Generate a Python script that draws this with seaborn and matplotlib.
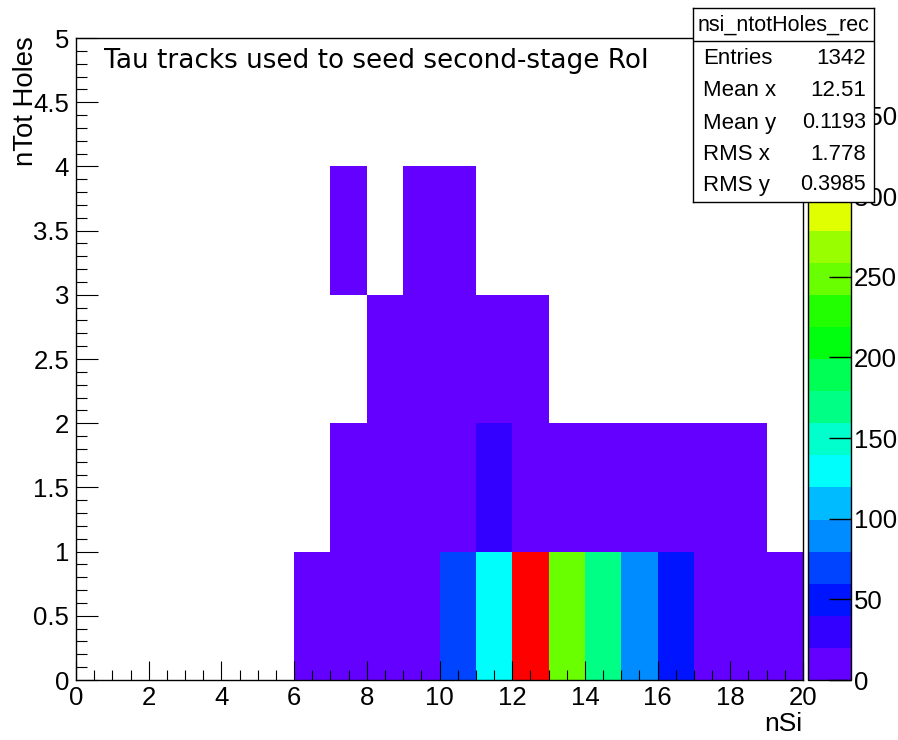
import colorsys
import numpy as np
import pandas as pd
import matplotlib
matplotlib.use("Agg")
import matplotlib.pyplot as plt
from matplotlib.colors import ListedColormap, BoundaryNorm
import seaborn as sns

# ---------------- data ----------------
nsi_edges = list(range(0, 21))          # nSi bin edges (20 bins)
holes_edges = list(range(0, 6))         # nTot Holes bin edges (5 bins)
# counts per nSi bin (0..19) for each nTot-Holes bin
holes0 = [0, 0, 0, 0, 0, 0, 6, 7, 8, 9, 72, 130, 398, 250, 170, 90, 50, 8, 6, 5]
holes1 = [0, 0, 0, 0, 0, 0, 0, 6, 9, 10, 12, 28, 12, 10, 8, 7, 6, 5, 3, 0]
holes2 = [0, 0, 0, 0, 0, 0, 0, 0, 2, 3, 4, 3, 2, 0, 0, 0, 0, 0, 0, 0]
holes3 = [0, 0, 0, 0, 0, 0, 0, 1, 0, 1, 1, 0, 0, 0, 0, 0, 0, 0, 0, 0]
holes4 = [0] * 20
x_tick_values = [0, 2, 4, 6, 8, 10, 12, 14, 16, 18, 20]
y_tick_values = [0, 0.5, 1, 1.5, 2, 2.5, 3, 3.5, 4, 4.5, 5]
z_tick_values = [0, 50, 100, 150, 200, 250, 300, 350]
stat_names = ["Entries", "Mean x", "Mean y", "RMS x", "RMS y"]
stat_values = ["1342", "12.51", "0.1193", "1.778", "0.3985"]
hist_name = "nsi_ntotHoles_rec"
title_text = "Tau tracks used to seed second-stage RoI"

# ---------------- styling ----------------
plt.rcParams["font.family"] = ["Liberation Sans", "DejaVu Sans"]

counts = pd.DataFrame([holes0, holes1, holes2, holes3, holes4],
                      index=holes_edges[:-1], columns=nsi_edges[:-1])

# ROOT "pretty" palette (violet -> red), 20 contour levels
ncont = 20
pal = []
for k in range(ncont):
    idx = int((k + 0.99) * 50 / ncont)
    hue = max(280 - (idx + 1) * 5.6, 0)
    pal.append(colorsys.hls_to_rgb(hue / 360.0, 0.5, 1.0))
cmap = ListedColormap(pal)
zmax = float(counts.values.max())
levels = np.linspace(0, zmax, ncont + 1)
norm = BoundaryNorm(levels, ncont)

W, H = 898, 740
fig = plt.figure(figsize=(W / 100, H / 100), dpi=100)
ax = fig.add_axes([76 / W, 1 - 680 / H, (803 - 76) / W, (680 - 38) / H])
cax = fig.add_axes([808 / W, 1 - 680 / H, (851 - 808) / W, (680 - 38) / H])

sns.heatmap(counts, mask=(counts == 0), cmap=cmap, norm=norm, ax=ax,
            cbar_ax=cax, xticklabels=False, yticklabels=False,
            cbar_kws={"spacing": "proportional"})

ax.set_xlim(0, 20)
ax.set_ylim(0, 5)
for s in ax.spines.values():
    s.set_visible(True)
    s.set_color("black")
    s.set_linewidth(1.0)

lab_fs = 18.5
ax.set_xticks(x_tick_values)
ax.set_xticklabels([f"{v:g}" for v in x_tick_values], rotation=0, fontsize=lab_fs)
ax.set_xticks(np.arange(0, 20.001, 0.5), minor=True)
ax.set_yticks(y_tick_values)
ax.set_yticklabels([f"{v:g}" for v in y_tick_values], rotation=0, fontsize=lab_fs)
ax.set_yticks(np.arange(0, 5.001, 0.1), minor=True)
ax.tick_params(axis="x", which="major", direction="in", length=13.7, width=0.8,
               pad=4, bottom=True, top=False)
ax.tick_params(axis="x", which="minor", direction="in", length=6.9, width=0.8,
               bottom=True, top=False)
ax.tick_params(axis="y", which="major", direction="in", length=15.8, width=0.8,
               pad=5, left=True, right=False)
ax.tick_params(axis="y", which="minor", direction="in", length=7.9, width=0.8,
               left=True, right=False)
ax.set_xlabel("")
ax.set_ylabel("")

# colour bar
cb = ax.collections[0].colorbar
cb.set_ticks(z_tick_values)
cb.set_ticklabels([str(v) for v in z_tick_values])
cb.outline.set_edgecolor("black")
cb.outline.set_linewidth(1.0)
cax.tick_params(axis="y", which="major", direction="in", length=15.8, width=1.0,
                labelsize=lab_fs, pad=2, right=True, left=False)
cax.minorticks_off()

# axis titles
fig.text(802 / W, 1 - 724 / H, "nSi", ha="right", va="center", fontsize=19)
fig.text(26 / W, 1 - 36 / H, "nTot Holes", ha="center", va="top",
         rotation=90, fontsize=19.8)

# title latex
fig.text(104 / W, 1 - 61 / H, title_text, ha="left", va="center",
         fontsize=18.9, family="DejaVu Sans")

# stats box
sx0, sx1, sy0, sy1 = 693, 874, 8, 202
sax = fig.add_axes([sx0 / W, 1 - sy1 / H, (sx1 - sx0) / W, (sy1 - sy0) / H],
                   zorder=10)
sax.set_xlim(sx0, sx1)
sax.set_ylim(sy1, sy0)
sax.set_xticks([])
sax.set_yticks([])
sax.set_facecolor("white")
for s in sax.spines.values():
    s.set_color("black")
    s.set_linewidth(1.0)
sax.plot([sx0, sx1], [41, 41], color="black", lw=1.0)
sax.text((sx0 + sx1) / 2, 25, hist_name, ha="center", va="center", fontsize=15.5)
row_y = [58, 91, 123, 154, 185]
row_fs = [16, 16, 15.5, 16, 15.5]
for name, val, yy, fs in zip(stat_names, stat_values, row_y, row_fs):
    sax.text(703, yy, name, ha="left", va="center", fontsize=16)
    sax.text(866, yy, val, ha="right", va="center", fontsize=fs)

fig.savefig("out.png", dpi=100)
